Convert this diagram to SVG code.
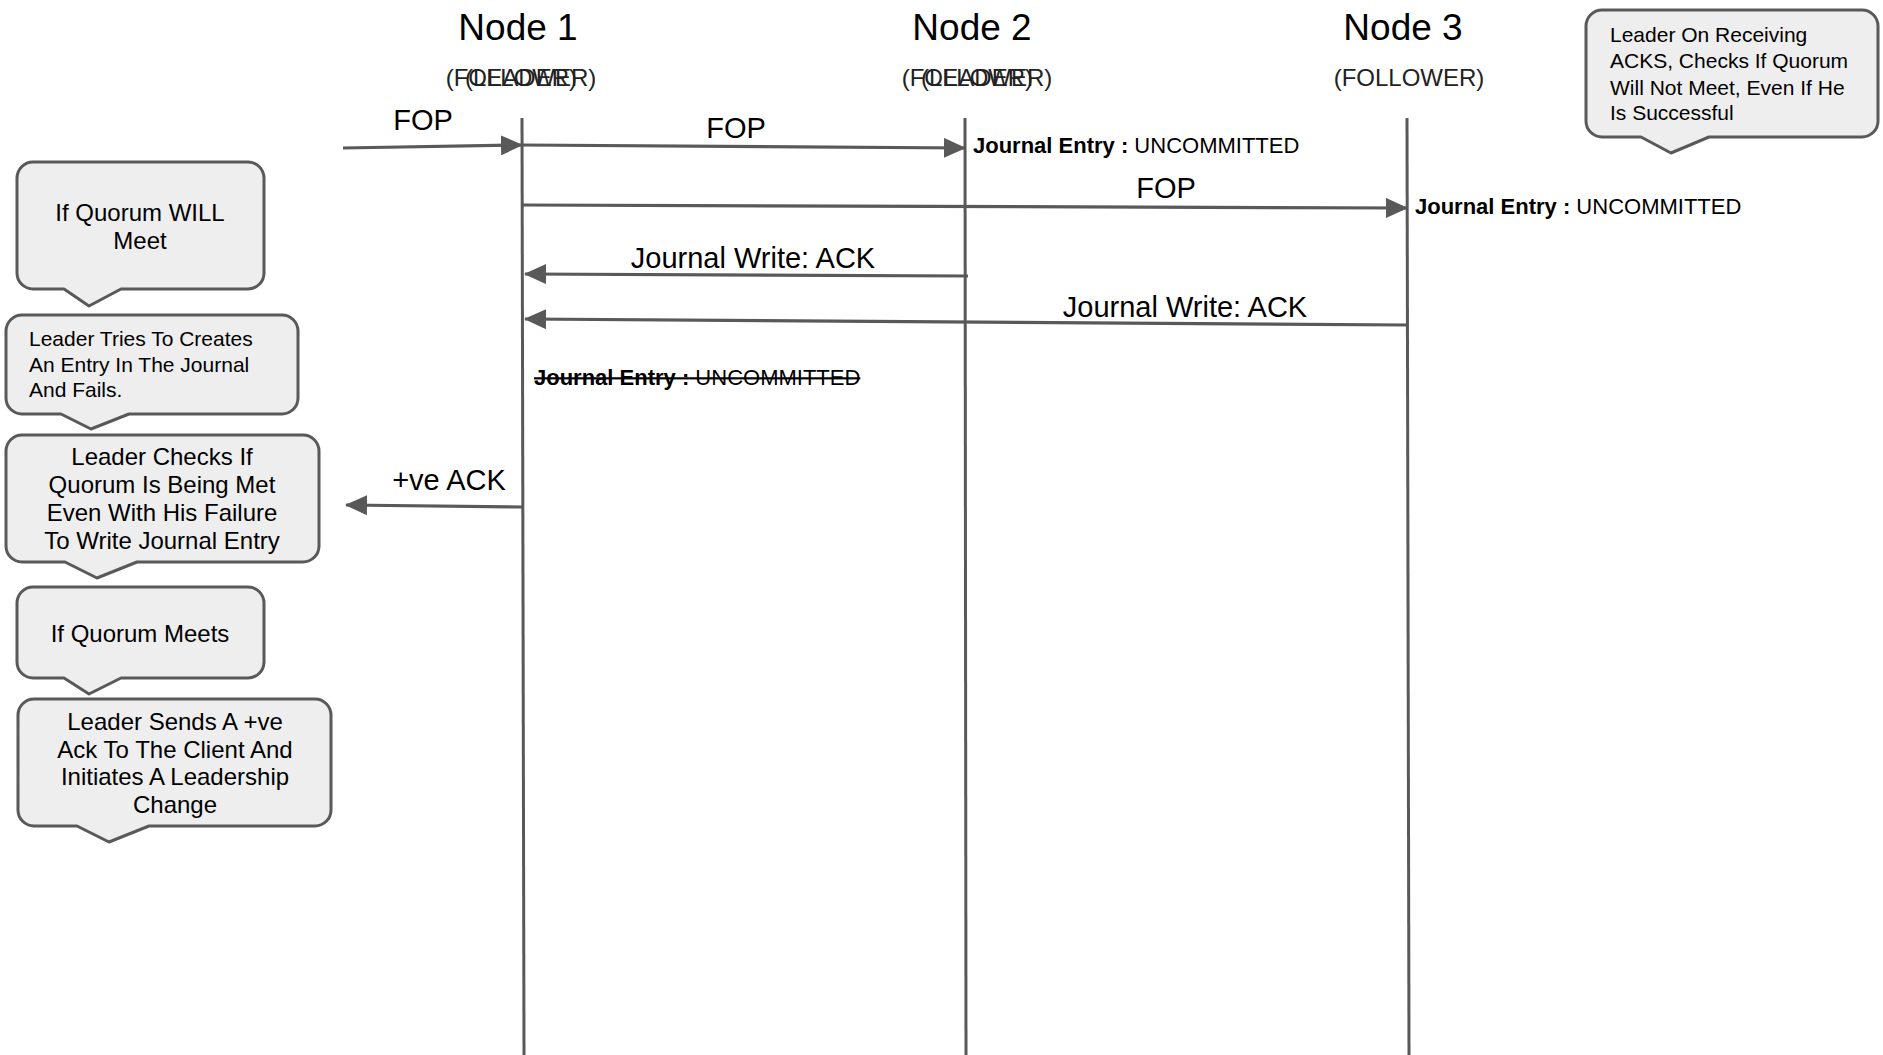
<svg xmlns="http://www.w3.org/2000/svg" width="1883" height="1055" viewBox="0 0 1883 1055">
  <style>
    text { font-family: "Liberation Sans", Arial, sans-serif; fill: #000; }
    .title { font-size: 37px; text-anchor: middle; }
    .role { font-size: 24px; text-anchor: middle; fill: #222; }
    .lbl { font-size: 29px; text-anchor: middle; }
    .entry { font-size: 22px; }
    .entry .b { font-weight: bold; }
    .lifeline { stroke: #595959; stroke-width: 3; fill: none; }
    .msg { stroke: #595959; stroke-width: 3.2; fill: none; marker-end: url(#arrow); }
    .callout path { fill: #eeeeee; stroke: #595959; stroke-width: 3; stroke-linejoin: round; }
    .note { font-size: 24px; text-anchor: middle; }
    .note-l { font-size: 21px; }
  </style>
  <defs>
    <marker id="arrow" markerUnits="userSpaceOnUse" markerWidth="22" markerHeight="20" refX="21" refY="10" orient="auto">
      <path d="M0,0 L22,10 L0,20 Z" fill="#595959"/>
    </marker>
  </defs>

  <!-- participants -->
  <g id="node1">
    <text class="title" x="518" y="40">Node 1</text>
    <text class="role" x="521" y="86">(FOLLOWER)</text>
    <text class="role" x="521" y="86">(LEADER)</text>
    <line class="lifeline" x1="522" y1="118" x2="524" y2="1055"/>
  </g>
  <g id="node2">
    <text class="title" x="972" y="40">Node 2</text>
    <text class="role" x="977" y="86">(FOLLOWER)</text>
    <text class="role" x="977" y="86">(LEADER)</text>
    <line class="lifeline" x1="965" y1="118" x2="966" y2="1055"/>
  </g>
  <g id="node3">
    <text class="title" x="1403" y="40">Node 3</text>
    <text class="role" x="1409" y="86">(FOLLOWER)</text>
    <line class="lifeline" x1="1407" y1="118" x2="1409" y2="1055"/>
  </g>

  <!-- messages -->
  <g id="connectors">
    <line class="msg" x1="343" y1="148" x2="522" y2="145"/>
    <text class="lbl" x="423" y="130">FOP</text>

    <line class="msg" x1="522" y1="145" x2="965" y2="148"/>
    <text class="lbl" x="736" y="138">FOP</text>

    <line class="msg" x1="522" y1="205" x2="1407" y2="208"/>
    <text class="lbl" x="1166" y="198">FOP</text>

    <line class="msg" x1="968" y1="276" x2="525" y2="274"/>
    <text class="lbl" x="753" y="268">Journal Write: ACK</text>

    <line class="msg" x1="1407" y1="325" x2="525" y2="319"/>
    <text class="lbl" x="1185" y="317">Journal Write: ACK</text>

    <line class="msg" x1="522" y1="507" x2="346" y2="505"/>
    <text class="lbl" x="449" y="490">+ve ACK</text>
  </g>

  <!-- journal states -->
  <g id="journal-node2">
    <text class="entry" x="973" y="153"><tspan class="b">Journal Entry :</tspan> UNCOMMITTED</text>
  </g>
  <g id="journal-node3">
    <text class="entry" x="1415" y="214"><tspan class="b">Journal Entry :</tspan> UNCOMMITTED</text>
  </g>
  <g id="journal-node1">
    <text class="entry" x="534" y="385" style="text-decoration: line-through;"><tspan class="b">Journal Entry :</tspan> UNCOMMITTED</text>
  </g>

  <!-- callouts -->
  <g id="note-quorum-will-meet" class="callout">
    <path d="M33,162 H248 A16,16 0 0 1 264,178 V273 A16,16 0 0 1 248,289 H121 L89,306 L64,289 H33 A16,16 0 0 1 17,273 V178 A16,16 0 0 1 33,162 Z"/>
    <text class="note" x="140" y="221">If Quorum WILL</text>
    <text class="note" x="140" y="249">Meet</text>
  </g>
  <g id="note-leader-fails" class="callout">
    <path d="M22,315 H282 A16,16 0 0 1 298,331 V398 A16,16 0 0 1 282,414 H129 L91,429 L61,414 H22 A16,16 0 0 1 6,398 V331 A16,16 0 0 1 22,315 Z"/>
    <text class="note-l" x="29" y="346">Leader Tries To Creates</text>
    <text class="note-l" x="29" y="372">An Entry In The Journal</text>
    <text class="note-l" x="29" y="397">And Fails.</text>
  </g>
  <g id="note-leader-checks" class="callout">
    <path d="M22,435 H303 A16,16 0 0 1 319,451 V546 A16,16 0 0 1 303,562 H137 L97,578 L65,562 H22 A16,16 0 0 1 6,546 V451 A16,16 0 0 1 22,435 Z"/>
    <text class="note" x="162" y="465">Leader Checks If</text>
    <text class="note" x="162" y="493">Quorum Is Being Met</text>
    <text class="note" x="162" y="521">Even With His Failure</text>
    <text class="note" x="162" y="549">To Write Journal Entry</text>
  </g>
  <g id="note-quorum-meets" class="callout">
    <path d="M33,587 H248 A16,16 0 0 1 264,603 V662 A16,16 0 0 1 248,678 H121 L89,694 L64,678 H33 A16,16 0 0 1 17,662 V603 A16,16 0 0 1 33,587 Z"/>
    <text class="note" x="140" y="642">If Quorum Meets</text>
  </g>
  <g id="note-leadership-change" class="callout">
    <path d="M34,699 H315 A16,16 0 0 1 331,715 V810 A16,16 0 0 1 315,826 H149 L109,842 L77,826 H34 A16,16 0 0 1 18,810 V715 A16,16 0 0 1 34,699 Z"/>
    <text class="note" x="175" y="730">Leader Sends A +ve</text>
    <text class="note" x="175" y="758">Ack To The Client And</text>
    <text class="note" x="175" y="785">Initiates A Leadership</text>
    <text class="note" x="175" y="813">Change</text>
  </g>
  <g id="note-receiving-acks" class="callout">
    <path d="M1602,10 H1862 A16,16 0 0 1 1878,26 V121 A16,16 0 0 1 1862,137 H1709 L1671,153 L1641,137 H1602 A16,16 0 0 1 1586,121 V26 A16,16 0 0 1 1602,10 Z"/>
    <text class="note-l" x="1610" y="42">Leader On Receiving</text>
    <text class="note-l" x="1610" y="68">ACKS, Checks If Quorum</text>
    <text class="note-l" x="1610" y="95">Will Not Meet, Even If He</text>
    <text class="note-l" x="1610" y="120">Is Successful</text>
  </g>
</svg>
